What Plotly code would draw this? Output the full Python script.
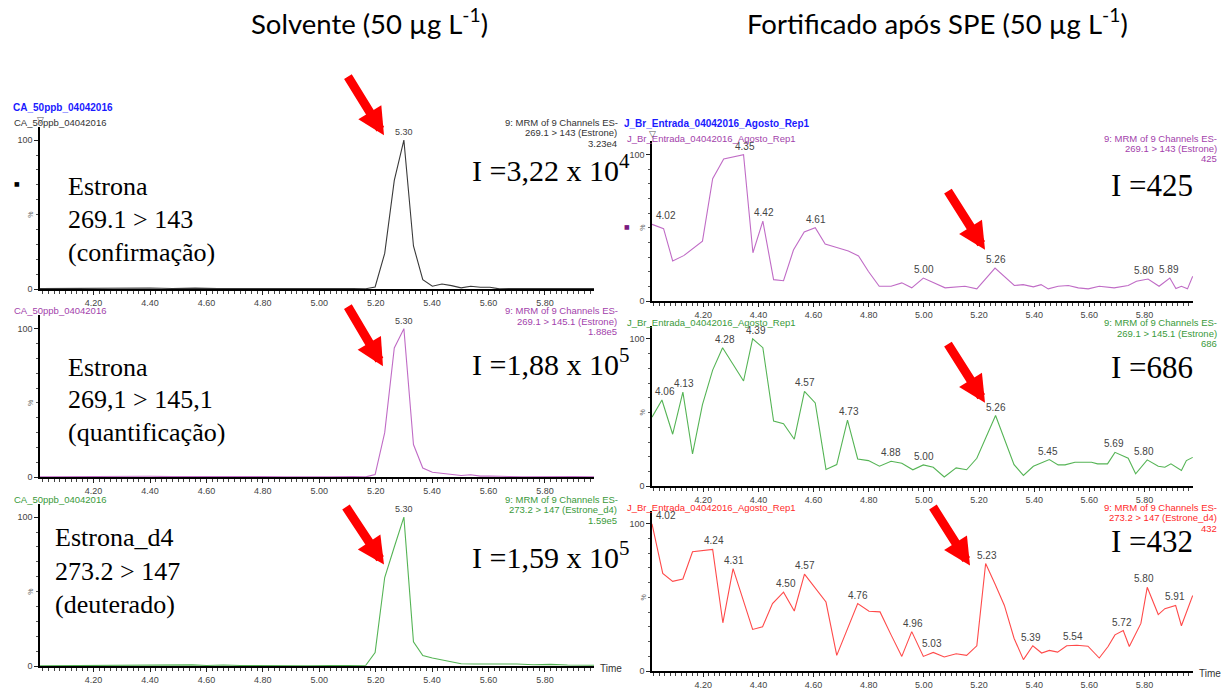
import plotly.graph_objects as go

# ---------------- data (retention time in min, relative intensity %) ----------------
TIME_LT = [4.010, 4.08, 4.16, 4.24, 4.32, 4.40, 4.48, 4.56, 4.64, 4.72, 4.80, 4.88, 4.96, 5.04, 5.12,
           5.165, 5.198, 5.232, 5.266, 5.300, 5.334, 5.367, 5.401, 5.435, 5.469, 5.503, 5.537, 5.571,
           5.605, 5.639, 5.673, 5.72, 5.78, 5.84, 5.90, 5.974]
INT_LT = [0.4, 0.5, 0.3, 0.6, 0.4, 0.8, 0.5, 0.7, 0.4, 0.6, 0.5, 0.4, 0.6, 0.4, 0.5,
          0.3, 1.5, 24.0, 73.0, 100.0, 29.0, 6.4, 2.0, 3.5, 2.4, 0.9, 2.0, 1.3,
          1.3, 0.2, 0.4, 0.5, 0.4, 0.6, 0.4, 0.5]

TIME_LM = [4.010, 4.08, 4.16, 4.24, 4.32, 4.40, 4.48, 4.56, 4.64, 4.72, 4.80, 4.88, 4.96, 5.04, 5.12,
           5.165, 5.198, 5.232, 5.266, 5.300, 5.334, 5.367, 5.401, 5.435, 5.469, 5.503, 5.537, 5.571,
           5.605, 5.639, 5.673, 5.72, 5.78, 5.84, 5.90, 5.974]
INT_LM = [0.3, 0.4, 0.3, 0.5, 0.4, 0.6, 0.4, 0.5, 0.3, 0.5, 0.4, 0.3, 0.5, 0.3, 0.4,
          0.2, 1.8, 30.0, 87.0, 100.0, 22.0, 6.2, 3.3, 2.7, 2.2, 1.1, 1.6, 0.7,
          0.8, 0.4, 0.5, 0.3, 0.5, 0.3, 0.4, 0.3]

TIME_LB = [4.010, 4.08, 4.16, 4.24, 4.32, 4.40, 4.45, 4.50, 4.55, 4.60, 4.66, 4.72, 4.80, 4.88, 4.96,
           5.04, 5.12, 5.165, 5.198, 5.232, 5.266, 5.300, 5.334, 5.367, 5.401, 5.435, 5.469, 5.503,
           5.55, 5.60, 5.65, 5.70, 5.76, 5.82, 5.88, 5.974]
INT_LB = [0.3, 0.4, 0.3, 0.4, 0.3, 0.5, 0.9, 0.8, 0.9, 0.5, 0.8, 0.5, 0.3, 0.4, 0.3,
          0.4, 0.3, 0.6, 9.2, 59.5, 80.0, 100.0, 16.4, 7.2, 5.5, 4.1, 2.5, 1.6,
          1.5, 1.6, 1.4, 1.5, 1.0, 1.2, 0.8, 0.6]

TIME_RT = [4.014, 4.056, 4.089, 4.129, 4.197, 4.234, 4.274, 4.346, 4.380, 4.416, 4.455, 4.491, 4.527,
           4.566, 4.606, 4.642, 4.684, 4.726, 4.763, 4.799, 4.838, 4.881, 4.920, 4.956, 4.998, 5.077,
           5.149, 5.192, 5.258, 5.328, 5.360, 5.397, 5.425, 5.451, 5.487, 5.524, 5.560, 5.596, 5.636,
           5.690, 5.741, 5.771, 5.813, 5.853, 5.892, 5.914, 5.934, 5.956, 5.975]
INT_RT = [52.4, 49.4, 27.4, 31.0, 40.9, 83.6, 97.0, 100.0, 33.0, 54.6, 14.6, 13.9, 34.8,
          47.2, 50.1, 38.9, 36.6, 34.2, 30.8, 20.2, 10.1, 10.1, 12.4, 9.0, 15.7, 9.0,
          10.1, 8.3, 22.5, 10.6, 11.2, 9.7, 11.2, 8.3, 10.1, 10.6, 9.0, 8.3, 10.1,
          9.0, 10.6, 13.5, 15.0, 10.1, 15.7, 8.5, 10.1, 8.3, 16.9]

TIME_RM = [4.014, 4.050, 4.089, 4.126, 4.161, 4.197, 4.234, 4.270, 4.306, 4.346, 4.379, 4.416, 4.455,
           4.491, 4.530, 4.567, 4.606, 4.645, 4.684, 4.723, 4.760, 4.799, 4.839, 4.881, 4.920, 4.960,
           4.998, 5.034, 5.074, 5.117, 5.155, 5.192, 5.260, 5.327, 5.361, 5.397, 5.455, 5.487, 5.512,
           5.548, 5.608, 5.630, 5.666, 5.693, 5.741, 5.768, 5.810, 5.850, 5.874, 5.896, 5.934, 5.952, 5.975]
INT_RM = [46.9, 58.5, 35.3, 63.8, 21.9, 55.4, 78.8, 94.0, 83.3, 71.4, 100.0, 94.0, 44.2,
          42.4, 31.9, 64.3, 56.5, 11.4, 14.7, 44.9, 18.5, 17.4, 13.6, 17.0, 15.6, 11.2,
          14.5, 12.9, 6.3, 12.5, 11.2, 19.0, 48.0, 14.7, 7.4, 13.6, 18.1, 14.5, 14.5,
          16.3, 16.3, 15.2, 15.2, 23.0, 19.0, 8.5, 17.9, 13.6, 12.9, 15.2, 10.7, 17.4, 19.6]

TIME_RB = [4.014, 4.053, 4.089, 4.126, 4.161, 4.234, 4.271, 4.308, 4.344, 4.379, 4.415, 4.451, 4.491,
           4.530, 4.567, 4.606, 4.645, 4.684, 4.723, 4.760, 4.801, 4.841, 4.881, 4.920, 4.956, 4.998,
           5.034, 5.074, 5.117, 5.155, 5.192, 5.224, 5.258, 5.292, 5.327, 5.361, 5.395, 5.427, 5.455,
           5.485, 5.518, 5.555, 5.595, 5.636, 5.668, 5.693, 5.723, 5.745, 5.787, 5.810, 5.850, 5.874,
           5.913, 5.934, 5.975]
INT_RB = [100.0, 66.3, 60.9, 62.5, 81.0, 82.6, 32.8, 69.6, 48.7, 28.3, 30.1, 45.8, 53.6,
          40.8, 65.8, 56.3, 46.9, 10.7, 29.0, 45.8, 40.6, 40.2, 24.6, 10.0, 26.8, 10.0,
          12.7, 9.6, 11.8, 10.7, 17.2, 73.0, 59.2, 44.6, 22.3, 7.8, 17.2, 12.3, 14.1,
          12.9, 17.2, 17.6, 16.9, 8.9, 16.7, 24.6, 27.5, 16.7, 32.4, 56.9, 38.4, 42.4,
          44.6, 30.8, 51.3]

PEAKS_LT = ["5.30"]
PEAKS_LM = ["5.30"]
PEAKS_LB = ["5.30"]
PEAKS_RT = ["4.02", "4.35", "4.42", "4.61", "5.00", "5.26", "5.80", "5.89"]
PEAKS_RM = ["4.06", "4.13", "4.28", "4.39", "4.57", "4.73", "4.88", "5.00", "5.26", "5.45", "5.69", "5.80"]
PEAKS_RB = ["4.02", "4.24", "4.31", "4.50", "4.57", "4.76", "4.96", "5.03", "5.23", "5.39", "5.54",
            "5.72", "5.80", "5.91"]

X_TICKS = [4.20, 4.40, 4.60, 4.80, 5.00, 5.20, 5.40, 5.60, 5.80]
SAMPLE_L = "CA_50ppb_04042016"
SAMPLE_R = "J_Br_Entrada_04042016_Agosto_Rep1"
CHANNELS = ["269.1 > 143 (Estrone)", "269.1 > 145.1 (Estrone)", "273.2 > 147 (Estrone_d4)"]
MAX_L = ["3.23e4", "1.88e5", "1.59e5"]
MAX_R = ["425", "686", "432"]
INTENS_L = ["I =3,22 x 10<sup>4</sup>", "I =1,88 x 10<sup>5</sup>", "I =1,59 x 10<sup>5</sup>"]
INTENS_R = ["I =425", "I =686", "I =432"]
COMPOUND_TEXT = [["Estrona", "269.1 > 143", "(confirmação)"],
                 ["Estrona", "269,1 > 145,1", "(quantificação)"],
                 ["Estrona_d4", "273.2 > 147", "(deuterado)"]]

# ---------------- layout helpers ----------------
W, H = 1229, 690
def PX(x): return x / W
def PY(y): return 1 - y / H

SANS = "Liberation Sans, Arial, sans-serif"
SERIF = "Liberation Serif, Times New Roman, serif"

PURPLE_L, PURPLE_T = "#c06cc6", "#a33fab"
GREEN_L, GREEN_T = "#55b455", "#3a9a3a"
RED_L, RED_T = "#ff4a4a", "#ff2a2a"

panels = [
    dict(t=TIME_LT, v=INT_LT, lc="#3a3a3a", tc="#333333", pk=PEAKS_LT, x0=40, x1=594, y0=293, y100=142,
         xr=[4.010, 5.974], side="L", row=0),
    dict(t=TIME_LM, v=INT_LM, lc=PURPLE_L, tc=PURPLE_T, pk=PEAKS_LM, x0=40, x1=594, y0=483.5, y100=333,
         xr=[4.010, 5.974], side="L", row=1),
    dict(t=TIME_LB, v=INT_LB, lc=GREEN_L, tc=GREEN_T, pk=PEAKS_LB, x0=40, x1=594, y0=675, y100=524,
         xr=[4.010, 5.974], side="L", row=2),
    dict(t=TIME_RT, v=INT_RT, lc=PURPLE_L, tc=PURPLE_T, pk=PEAKS_RT, x0=652, x1=1193, y0=305, y100=156.7,
         xr=[4.014, 5.976], side="R", row=0),
    dict(t=TIME_RM, v=INT_RM, lc=GREEN_L, tc=GREEN_T, pk=PEAKS_RM, x0=652, x1=1193, y0=492.7, y100=343.3,
         xr=[4.014, 5.976], side="R", row=1),
    dict(t=TIME_RB, v=INT_RB, lc=RED_L, tc=RED_T, pk=PEAKS_RB, x0=652, x1=1193, y0=680, y100=530.7,
         xr=[4.014, 5.976], side="R", row=2),
]

YTOP = 109.0
fig = go.Figure()
ann = []
lay = {}


def txt(x, y, text, size, color, family=SANS, xanchor="left", **kw):
    d = dict(x=PX(x), y=PY(y), xref="paper", yref="paper", text=text, showarrow=False,
             xanchor=xanchor, yanchor="middle", font=dict(family=family, size=size, color=color))
    d.update(kw)
    ann.append(d)


for i, p in enumerate(panels):
    n = i + 1
    sfx = "" if n == 1 else str(n)
    xa, ya = "x" + sfx, "y" + sfx
    fig.add_trace(go.Scatter(x=p["t"], y=p["v"], mode="lines", xaxis=xa, yaxis=ya,
                             line=dict(color=p["lc"], width=1.1), showlegend=False, hoverinfo="x+y"))
    top_px = p["y0"] - (YTOP / 100.0) * (p["y0"] - p["y100"])
    lay["xaxis" + sfx] = dict(domain=[PX(p["x0"]), PX(p["x1"])], range=p["xr"], anchor=ya,
                              tickvals=X_TICKS, ticktext=["%.2f" % v for v in X_TICKS],
                              ticks="outside", ticklen=4, tickwidth=1, tickcolor="#222",
                              minor=dict(dtick=0.02, tick0=4.0, ticks="outside", ticklen=2.5,
                                         tickcolor="#444", tickwidth=1),
                              showline=True, linecolor="black", linewidth=2, showgrid=False,
                              zeroline=False, tickfont=dict(family=SANS, size=9, color="#444"))
    lay["yaxis" + sfx] = dict(domain=[PY(p["y0"]), PY(top_px)], range=[0, YTOP], anchor=xa,
                              tickvals=[0, 100], ticktext=["0", "100"], ticks="outside", ticklen=4,
                              tickcolor="#222",
                              minor=dict(dtick=10, tick0=0, ticks="outside", ticklen=2, tickcolor="#555"),
                              showline=True, linecolor="black", linewidth=1.5, showgrid=False,
                              zeroline=False, tickfont=dict(family=SANS, size=9, color="#444"))
    # "%" label on the y axis
    ann.append(dict(x=PX(p["x0"] - 9), y=50, xref="paper", yref=ya, text="%", textangle=-90,
                    xanchor="center", yanchor="middle", showarrow=False,
                    font=dict(family=SANS, size=7, color="#666")))
    # peak labels
    fs = 9 if p["side"] == "L" else 10
    for lab in p["pk"]:
        rt = float(lab)
        j = min(range(len(p["t"])), key=lambda k: abs(p["t"][k] - rt))
        xs = 12 if j == 0 else 0
        ann.append(dict(x=rt, y=p["v"][j], xref=xa, yref=ya, text=lab, showarrow=False,
                        xanchor="center", yanchor="bottom", yshift=1, xshift=xs,
                        font=dict(family=SANS, size=fs, color="#444")))
    # sample names and channel info
    r = p["row"]
    if p["side"] == "L":
        base = 124 + 191 * r
        txt(12, base, SAMPLE_L, 9.5, p["tc"])
        txt(620, base, "9: MRM of 9 Channels ES-", 9.5, p["tc"], xanchor="right")
        txt(619, base + 10.5, CHANNELS[r], 9.5, p["tc"], xanchor="right")
        txt(619, base + 21, MAX_L[r], 9.5, p["tc"], xanchor="right")
        iy = [170, 367, 562][r]
        txt(470, iy, INTENS_L[r], 30, "black", family=SERIF)
        lx = 66 if r < 2 else 53
        lys = [[189, 222, 256], [372, 405, 438], [545, 579, 612]][r]
        for t_, yy in zip(COMPOUND_TEXT[r], lys):
            txt(lx, yy, t_, 26, "black", family=SERIF)
    else:
        cy = [140, 327, 514][r]
        txt(625, cy, SAMPLE_R, 9.5, p["tc"])
        txt(1219, cy, "9: MRM of 9 Channels ES-", 9.5, p["tc"], xanchor="right")
        txt(1219, cy + 10.5, CHANNELS[r], 9.5, p["tc"], xanchor="right")
        txt(1219, cy + 21, MAX_R[r], 9.5, p["tc"], xanchor="right")
        iy = [188, 372, 549][r]
        txt(1109, iy, INTENS_R[r], 31, "black", family=SERIF)

# blue bold sample headers
txt(11, 109, "<b>" + SAMPLE_L + "</b>", 10, "#1a1aff")
txt(622, 125, "<b>" + SAMPLE_R + "</b>", 10, "#1a1aff")
# small markers
txt(40, 122, "▽", 9, "#555", family="DejaVu Sans", xanchor="center")
txt(652, 136, "▽", 9, "#555", family="DejaVu Sans", xanchor="center")
txt(17, 186, "■", 6, "#000", family="DejaVu Sans", xanchor="center")
txt(627, 230, "■", 6, "#7a1a80", family="DejaVu Sans", xanchor="center")
# "Time" axis labels
txt(598, 677, "Time", 10, "#333")
txt(1197, 682, "Time", 10, "#333")
# titles
txt(369, 22, "Solvente (50 µg L<sup>-1</sup>)", 27.5, "black", family="Lato, sans-serif", xanchor="center")
txt(937, 22, "Fortificado após SPE (50 µg L<sup>-1</sup>)", 27.5, "black", family="Lato, sans-serif",
    xanchor="center")

# red arrows (tail -> tip, pixel positions)
ARROWS = [((347, 77), (384, 137)), ((347, 310), (383, 371)), ((345, 513), (384, 572)),
          ((947, 193), (985, 253)), ((947, 348), (985, 408)), ((932, 513), (970, 573))]
for (tx, ty), (hx, hy) in ARROWS:
    ann.append(dict(x=PX(hx), y=PY(hy), xref="paper", yref="paper", ax=tx - hx, ay=ty - hy,
                    text="", showarrow=True, arrowhead=2, arrowsize=0.6, arrowwidth=9,
                    arrowcolor="#ff0000", standoff=0))

fig.update_layout(width=W, height=H, margin=dict(l=0, r=0, t=0, b=0),
                  paper_bgcolor="white", plot_bgcolor="white", annotations=ann, **lay)
fig.write_html("out.html")
